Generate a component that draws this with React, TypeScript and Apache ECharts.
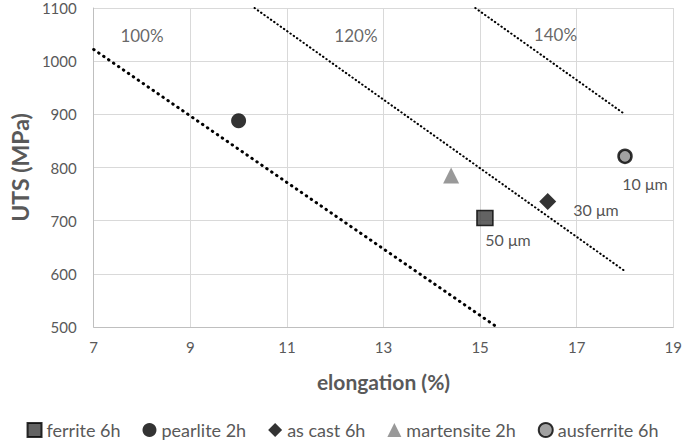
import React, { useEffect, useRef } from "react";
import * as echarts from "echarts";

const xTicks = [7, 9, 11, 13, 15, 17, 19];
const yTicks = [500, 600, 700, 800, 900, 1000, 1100];

const seriesNames = ["ferrite 6h", "pearlite 2h", "as cast 6h", "martensite 2h", "ausferrite 6h"];
const ferrite: [number, number][] = [[15.1, 705]];
const pearlite: [number, number][] = [[10.0, 888]];
const asCast: [number, number][] = [[16.4, 736]];
const martensite: [number, number][] = [[14.4, 785]];
const ausferrite: [number, number][] = [[18.0, 821]];

const grainLabels = ["50 μm", "30 μm", "10 μm"];

const line100: [number, number][] = [[7.0, 1022], [15.3, 503]];
const line120: [number, number][] = [[10.33, 1100], [18.0, 605]];
const line140: [number, number][] = [[14.9, 1100], [18.0, 900]];

const ratioLabels = ["100%", "120%", "140%"];
const ratioLabelPos: [number, number][] = [[8.0, 1049], [12.43, 1049], [16.56, 1050]];

export default function App() {
  const ref = useRef<HTMLDivElement>(null);
  useEffect(() => {
    if (!ref.current) return;
    const chart = echarts.init(ref.current, null, { renderer: "svg" });
    const font = "Lato, 'Open Sans', sans-serif";
    const grey = "#595959";
    const refLine = (data: [number, number][], width: number, dash: number[]) => ({
      type: "line",
      data,
      symbol: "none",
      silent: true,
      z: 1,
      lineStyle: { color: "#000", width, type: dash, cap: "round" },
    });
    chart.setOption({
      animation: false,
      textStyle: { fontFamily: font },
      grid: { left: 83, right: 11, top: 8, bottom: 119, containLabel: false },
      xAxis: {
        type: "value",
        min: xTicks[0],
        max: xTicks[xTicks.length - 1],
        interval: 2,
        name: "elongation (%)",
        nameLocation: "middle",
        nameGap: 44,
        nameTextStyle: { color: grey, fontSize: 21, fontWeight: "bold", fontFamily: font },
        axisLine: { show: true, lineStyle: { color: "#bfbfbf" } },
        axisTick: { show: false },
        axisLabel: { color: grey, fontSize: 15, margin: 12, fontFamily: font },
        splitLine: { show: true, lineStyle: { color: "#d9d9d9" } },
      },
      yAxis: {
        type: "value",
        min: yTicks[0],
        max: yTicks[yTicks.length - 1],
        interval: 100,
        name: "UTS (MPa)",
        nameLocation: "middle",
        nameGap: 56,
        nameTextStyle: { color: grey, fontSize: 23, fontWeight: "bold", fontFamily: font },
        axisLine: { show: true, lineStyle: { color: "#bfbfbf" } },
        axisTick: { show: false },
        axisLabel: { color: grey, fontSize: 15, margin: 17, fontFamily: font, formatter: (v: number) => String(v) },
        splitLine: { show: true, lineStyle: { color: "#d9d9d9" } },
      },
      legend: {
        data: seriesNames,
        bottom: 2,
        left: "center",
        itemGap: 22,
        itemWidth: 14,
        itemHeight: 14,
        textStyle: { color: grey, fontSize: 18, fontFamily: font },
      },
      series: [
        refLine(line100, 3, [0.5, 5.5]),
        refLine(line120, 2, [0.5, 3.5]),
        refLine(line140, 2, [0.5, 3.5]),
        {
          type: "scatter",
          data: ratioLabelPos.map((p, i) => ({ value: p, label: { formatter: ratioLabels[i] } })),
          symbolSize: 0,
          silent: true,
          label: { show: true, position: "inside", color: "#404040", fontSize: 17, fontFamily: font },
        },
        {
          name: seriesNames[0],
          type: "scatter",
          data: ferrite,
          symbol: "rect",
          symbolSize: [16, 15],
          itemStyle: { color: "#3c3c3c", borderColor: "#000", borderWidth: 1.5 },
          label: { show: true, formatter: grainLabels[0], position: "bottom", offset: [23, 0], color: "#262626", fontSize: 16, fontFamily: font },
          z: 3,
        },
        {
          name: seriesNames[1],
          type: "scatter",
          data: pearlite,
          symbol: "circle",
          symbolSize: 15,
          itemStyle: { color: "#000" },
          z: 3,
        },
        {
          name: seriesNames[2],
          type: "scatter",
          data: asCast,
          symbol: "diamond",
          symbolSize: 17,
          itemStyle: { color: "#000" },
          label: { show: true, formatter: grainLabels[1], position: "right", offset: [12, 8], color: "#262626", fontSize: 16, fontFamily: font },
          z: 3,
        },
        {
          name: seriesNames[3],
          type: "scatter",
          data: martensite,
          symbol: "triangle",
          symbolSize: 16,
          itemStyle: { color: "#7f7f7f" },
          z: 3,
        },
        {
          name: seriesNames[4],
          type: "scatter",
          data: ausferrite,
          symbol: "circle",
          symbolSize: 13,
          itemStyle: { color: "#8a8a8a", borderColor: "#000", borderWidth: 2.5 },
          label: { show: true, formatter: grainLabels[2], position: "bottom", offset: [20, 6], color: "#262626", fontSize: 16, fontFamily: font },
          z: 3,
        },
      ],
    });
    return () => chart.dispose();
  }, []);
  return <div ref={ref} style={{ width: 685, height: 446, position: "absolute", left: 0, top: 0 }} />;
}
